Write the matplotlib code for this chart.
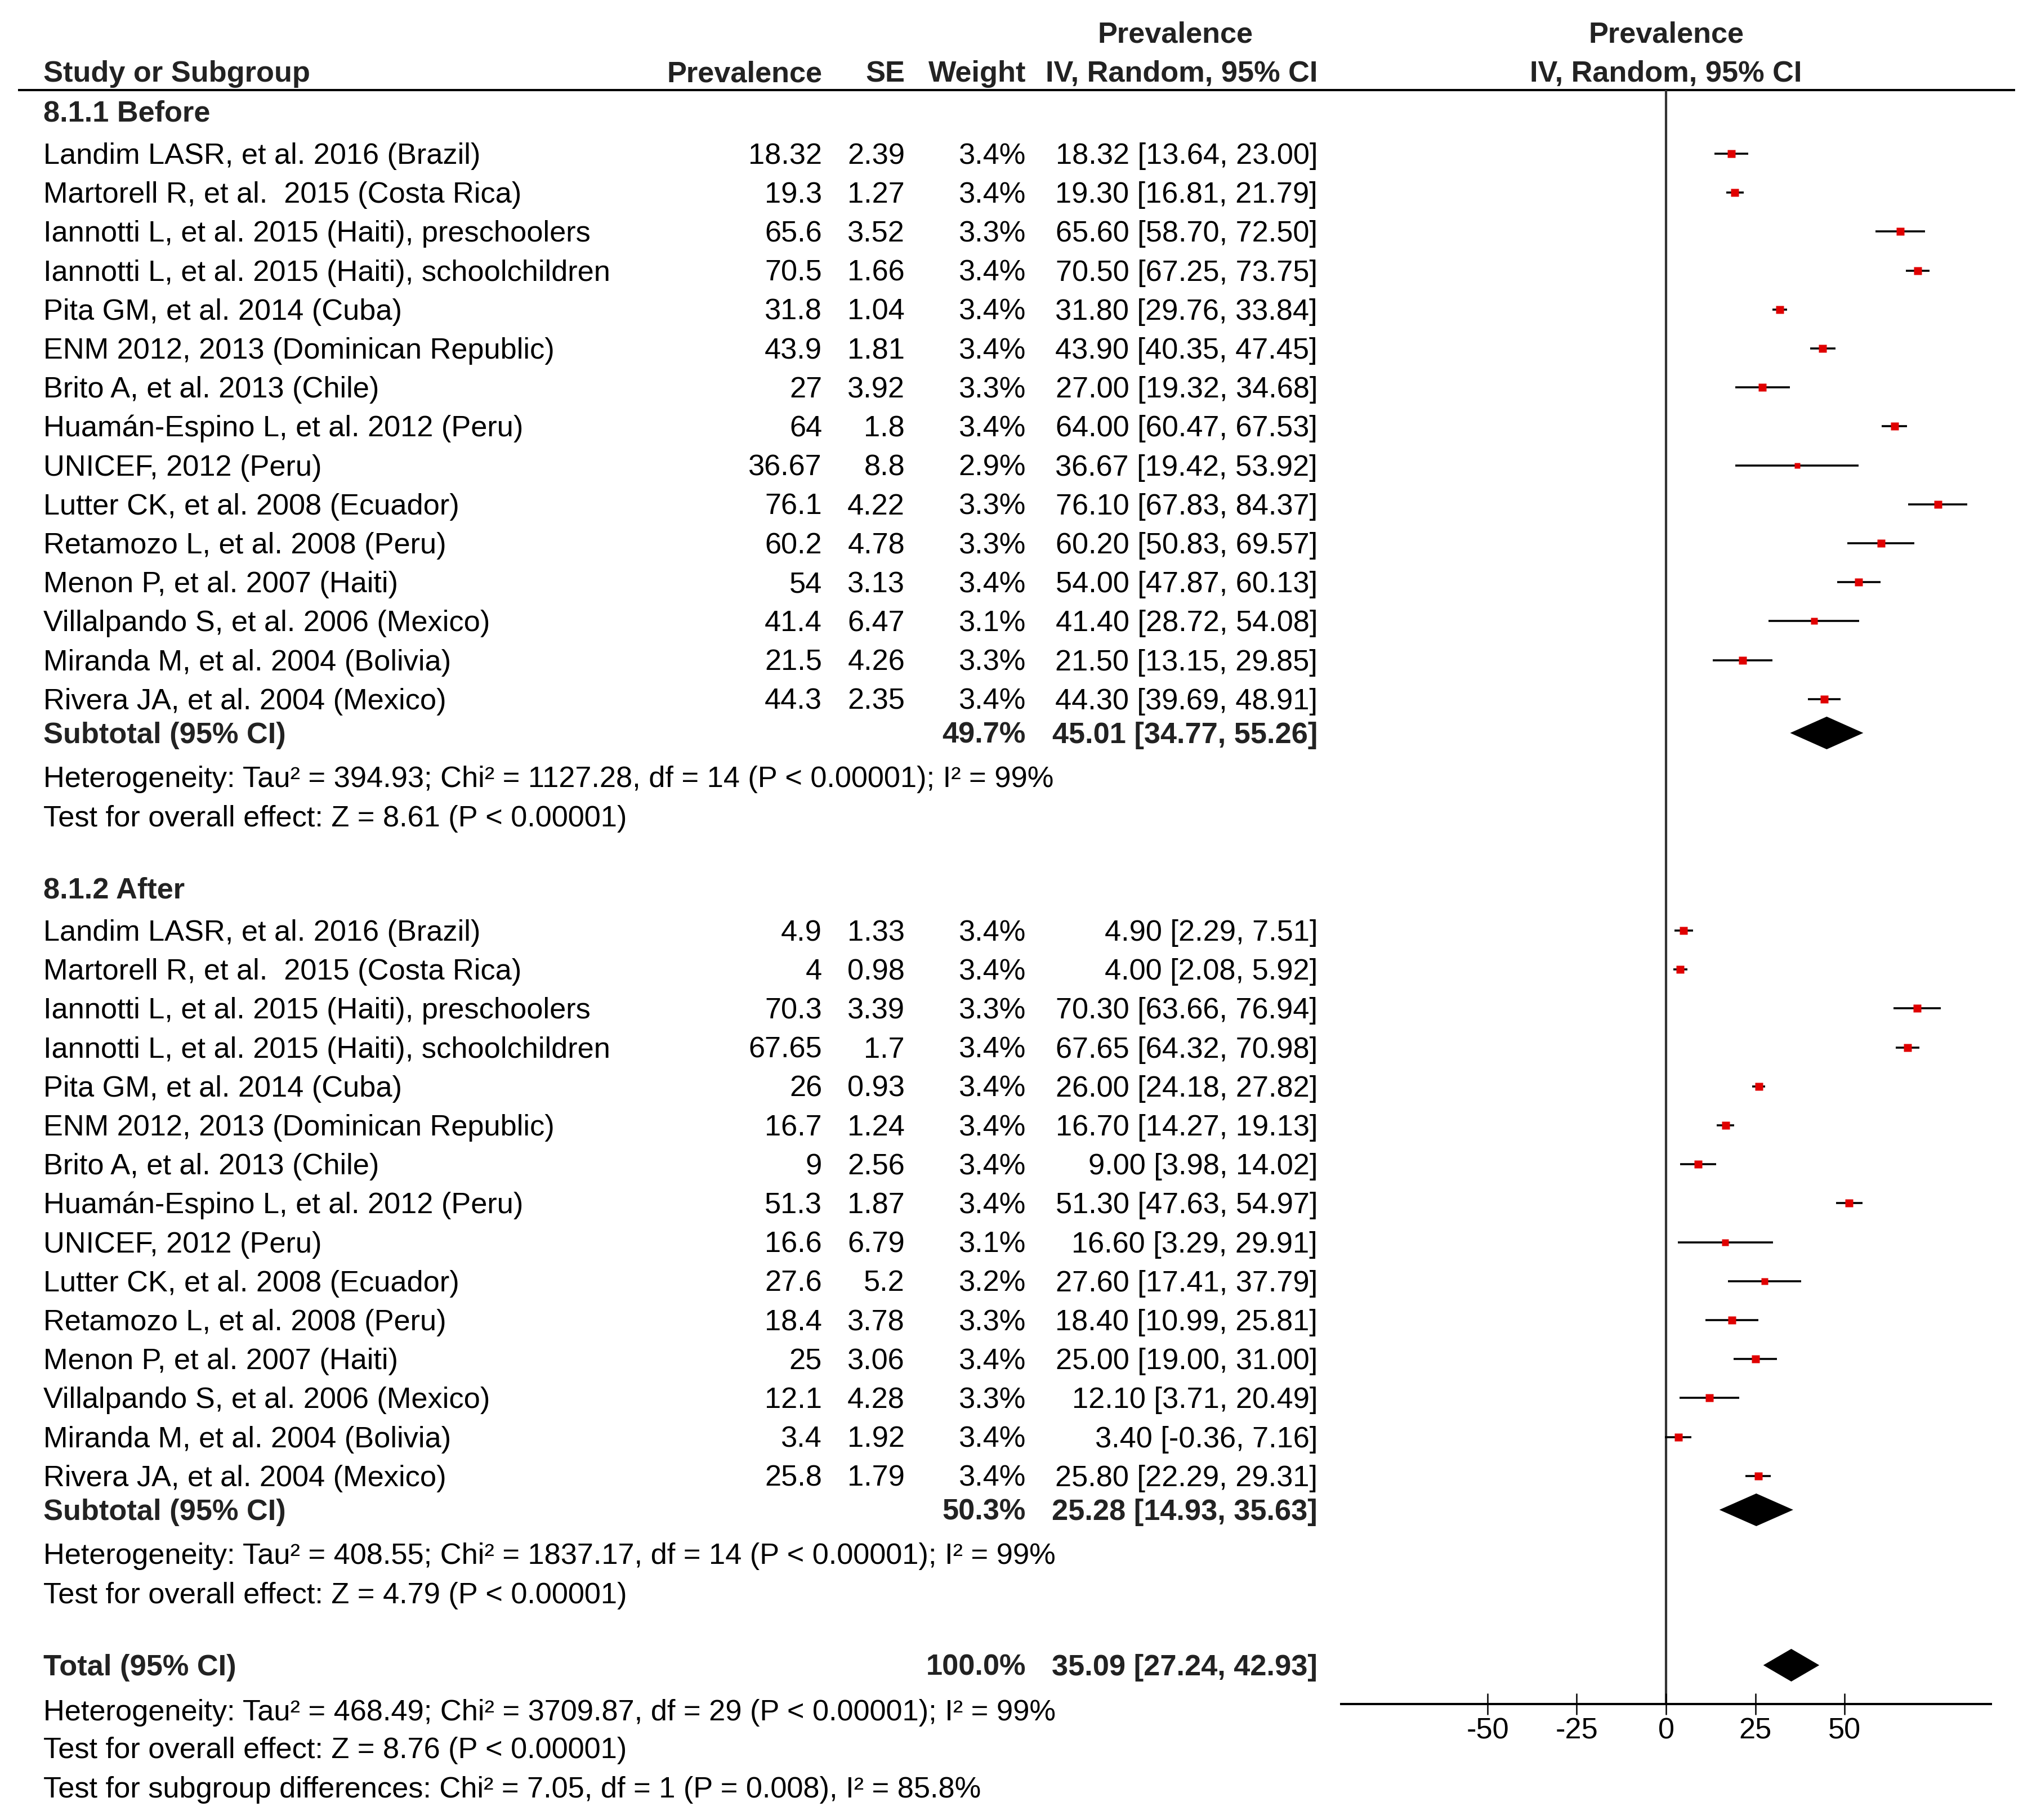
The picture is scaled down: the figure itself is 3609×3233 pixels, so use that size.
import matplotlib
matplotlib.use("Agg")
import matplotlib.pyplot as plt
from matplotlib.lines import Line2D

plt.rcParams['font.family'] = ['Liberation Sans', 'DejaVu Sans']

# ---------------- data ----------------
studies = [
    "Landim LASR, et al. 2016 (Brazil)",
    "Martorell R, et al.  2015 (Costa Rica)",
    "Iannotti L, et al. 2015 (Haiti), preschoolers",
    "Iannotti L, et al. 2015 (Haiti), schoolchildren",
    "Pita GM, et al. 2014 (Cuba)",
    "ENM 2012, 2013 (Dominican Republic)",
    "Brito A, et al. 2013 (Chile)",
    "Huamán-Espino L, et al. 2012 (Peru)",
    "UNICEF, 2012 (Peru)",
    "Lutter CK, et al. 2008 (Ecuador)",
    "Retamozo L, et al. 2008 (Peru)",
    "Menon P, et al. 2007 (Haiti)",
    "Villalpando S, et al. 2006 (Mexico)",
    "Miranda M, et al. 2004 (Bolivia)",
    "Rivera JA, et al. 2004 (Mexico)",
]

before_prev = [18.32, 19.3, 65.6, 70.5, 31.8, 43.9, 27, 64, 36.67, 76.1, 60.2, 54, 41.4, 21.5, 44.3]
before_se = [2.39, 1.27, 3.52, 1.66, 1.04, 1.81, 3.92, 1.8, 8.8, 4.22, 4.78, 3.13, 6.47, 4.26, 2.35]
before_weight = [3.4, 3.4, 3.3, 3.4, 3.4, 3.4, 3.3, 3.4, 2.9, 3.3, 3.3, 3.4, 3.1, 3.3, 3.4]
before_lo = [13.64, 16.81, 58.70, 67.25, 29.76, 40.35, 19.32, 60.47, 19.42, 67.83, 50.83, 47.87, 28.72, 13.15, 39.69]
before_hi = [23.00, 21.79, 72.50, 73.75, 33.84, 47.45, 34.68, 67.53, 53.92, 84.37, 69.57, 60.13, 54.08, 29.85, 48.91]

after_prev = [4.9, 4, 70.3, 67.65, 26, 16.7, 9, 51.3, 16.6, 27.6, 18.4, 25, 12.1, 3.4, 25.8]
after_se = [1.33, 0.98, 3.39, 1.7, 0.93, 1.24, 2.56, 1.87, 6.79, 5.2, 3.78, 3.06, 4.28, 1.92, 1.79]
after_weight = [3.4, 3.4, 3.3, 3.4, 3.4, 3.4, 3.4, 3.4, 3.1, 3.2, 3.3, 3.4, 3.3, 3.4, 3.4]
after_lo = [2.29, 2.08, 63.66, 64.32, 24.18, 14.27, 3.98, 47.63, 3.29, 17.41, 10.99, 19.00, 3.71, -0.36, 22.29]
after_hi = [7.51, 5.92, 76.94, 70.98, 27.82, 19.13, 14.02, 54.97, 29.91, 37.79, 25.81, 31.00, 20.49, 7.16, 29.31]

group_titles = ["8.1.1 Before", "8.1.2 After"]
subtotal_weight = ["49.7%", "50.3%"]
subtotal_est = [45.01, 25.28]
subtotal_lo = [34.77, 14.93]
subtotal_hi = [55.26, 35.63]
group_het = [
    "Heterogeneity: Tau² = 394.93; Chi² = 1127.28, df = 14 (P < 0.00001); I² = 99%",
    "Heterogeneity: Tau² = 408.55; Chi² = 1837.17, df = 14 (P < 0.00001); I² = 99%",
]
group_test = [
    "Test for overall effect: Z = 8.61 (P < 0.00001)",
    "Test for overall effect: Z = 4.79 (P < 0.00001)",
]

total_weight = "100.0%"
total_est, total_lo, total_hi = 35.09, 27.24, 42.93
total_lines = [
    "Heterogeneity: Tau² = 468.49; Chi² = 3709.87, df = 29 (P < 0.00001); I² = 99%",
    "Test for overall effect: Z = 8.76 (P < 0.00001)",
    "Test for subgroup differences: Chi² = 7.05, df = 1 (P = 0.008), I² = 85.8%",
]

xticks = [-50, -25, 0, 25, 50]

groups = [
    (before_prev, before_se, before_weight, before_lo, before_hi),
    (after_prev, after_se, after_weight, after_lo, after_hi),
]

# ---------------- layout (pixels) ----------------
W, H = 3609, 3233
fig = plt.figure(figsize=(W / 100, H / 100), dpi=100)
fig.patch.set_facecolor('white')

tab = fig.add_axes([0, 0, 1, 1])
tab.set_xlim(0, W)
tab.set_ylim(H, 0)
tab.axis('off')

FS = 37.7
BOFF = 18  # baseline offset from visual centre
X_NAME = 77
X_PREV = 1460
X_SE = 1607
X_W = 1822
X_CI = 2340
TXT = 'black'
BOLD = '#222222'

ax_left, ax_right = 2382, 3536
ax_top, ax_bot = 160, 3027
ax = fig.add_axes([ax_left / W, 1 - ax_bot / H, (ax_right - ax_left) / W, (ax_bot - ax_top) / H])
ax.set_xlim(-91, 91)
ax.set_ylim(ax_bot, ax_top)
ax.patch.set_alpha(0)
for s in ['top', 'left', 'right']:
    ax.spines[s].set_visible(False)
ax.spines['bottom'].set_linewidth(2.9)
ax.set_yticks([])
ax.set_xticks(xticks)
ax.set_xticklabels([str(t) for t in xticks])
ax.tick_params(axis='x', direction='inout', length=28, width=1.8, pad=3, labelsize=FS, colors='black')
ax.axvline(0, color='#333333', lw=3.0, zorder=1)


def txt(x, y, s, ha='left', bold=False, color=None):
    tab.text(x, y + BOFF, s, ha=ha, va='baseline', fontsize=FS,
             fontweight='bold' if bold else 'normal',
             color=color if color else (BOLD if bold else TXT))


# header
txt(X_NAME, 127, "Study or Subgroup", bold=True)
txt(X_PREV, 127, "Prevalence", ha='right', bold=True)
txt(X_SE, 127, "SE", ha='right', bold=True)
txt(X_W, 127, "Weight", ha='right', bold=True)
txt(X_CI, 127, "IV, Random, 95% CI", ha='right', bold=True)
txt(2087, 58, "Prevalence", ha='center', bold=True)
fc = (ax_left + ax_right) / 2
txt(fc, 58, "Prevalence", ha='center', bold=True)
txt(fc, 127, "IV, Random, 95% CI", ha='center', bold=True)
tab.add_line(Line2D([34, 3577], [160, 160], color='black', lw=2.9))

HEAD0 = 197
GROUP_SHIFT = 1380
FIRST_OFF = 76
STEP = 69.2
SUB_OFF = 1302 - 197
HET_OFF = 1380 - 197
TEST_OFF = 1450 - 197
DIAM_H = 29
RED = '#e00000'

for g, (prev, se, wt, lo, hi) in enumerate(groups):
    y0 = HEAD0 + g * GROUP_SHIFT
    txt(X_NAME, y0, group_titles[g], bold=True)
    for i, name in enumerate(studies):
        y = y0 + FIRST_OFF + i * STEP
        txt(X_NAME, y, name)
        txt(X_PREV, y, "%g" % prev[i], ha='right')
        txt(X_SE, y, "%g" % se[i], ha='right')
        txt(X_W, y, "%.1f%%" % wt[i], ha='right')
        txt(X_CI, y, "%.2f [%.2f, %.2f]" % (prev[i], lo[i], hi[i]), ha='right')
        ax.plot([lo[i], hi[i]], [y, y], color='black', lw=2.6, solid_capstyle='butt', zorder=3, clip_on=False)
        ms = 10.0 * (wt[i] / 3.4) ** 2
        ax.plot([prev[i]], [y], marker='s', ms=ms, color=RED, mec='none', zorder=4, clip_on=False)
    ys = y0 + SUB_OFF
    txt(X_NAME, ys, "Subtotal (95% CI)", bold=True)
    txt(X_W, ys, subtotal_weight[g], ha='right', bold=True)
    txt(X_CI, ys, "%.2f [%.2f, %.2f]" % (subtotal_est[g], subtotal_lo[g], subtotal_hi[g]), ha='right', bold=True)
    ax.fill([subtotal_lo[g], subtotal_est[g], subtotal_hi[g], subtotal_est[g]],
            [ys, ys - DIAM_H, ys, ys + DIAM_H], color='black', lw=0, zorder=4)
    txt(X_NAME, y0 + HET_OFF, group_het[g])
    txt(X_NAME, y0 + TEST_OFF, group_test[g])

YT = 2958
txt(X_NAME, YT, "Total (95% CI)", bold=True)
txt(X_W, YT, total_weight, ha='right', bold=True)
txt(X_CI, YT, "%.2f [%.2f, %.2f]" % (total_est, total_lo, total_hi), ha='right', bold=True)
ax.fill([total_lo, total_est, total_hi, total_est], [YT, YT - DIAM_H, YT, YT + DIAM_H],
        color='black', lw=0, zorder=4, clip_on=False)
for k, (yy, s) in enumerate(zip([3038, 3105, 3175], total_lines)):
    txt(X_NAME, yy, s)

fig.savefig("out.png", dpi=100, facecolor='white')
